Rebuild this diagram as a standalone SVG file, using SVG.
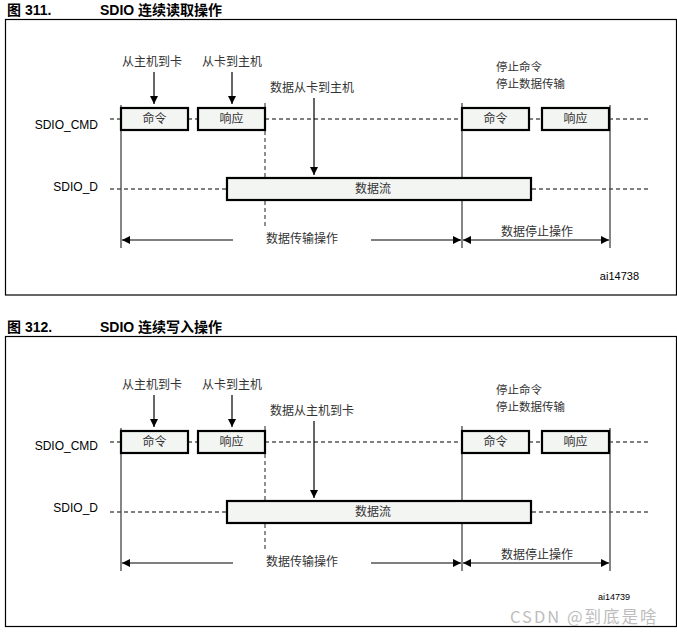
<svg xmlns="http://www.w3.org/2000/svg" width="677" height="633" viewBox="0 0 677 633">
<defs>
<marker id="ah" viewBox="0 0 10 10" refX="10" refY="5" markerWidth="10" markerHeight="8" markerUnits="userSpaceOnUse" orient="auto-start-reverse">
<path d="M0,0 L10,5 L0,10 z" fill="#000"/>
</marker>
<style>
.title{font-family:"Liberation Sans","Noto Sans CJK SC",sans-serif;font-weight:bold;font-size:14px;fill:#000}
.cn{font-family:"Noto Sans CJK SC","Liberation Serif",serif;font-size:12px;fill:#333}
.cn2{font-family:"Noto Sans CJK SC","Liberation Serif",serif;font-size:11.5px;fill:#333}
.sig{font-family:"Liberation Sans",Arial,sans-serif;font-size:12px;fill:#000}
.id{font-family:"Liberation Sans",Arial,sans-serif;font-size:11px;fill:#000}
.frame{fill:none;stroke:#000;stroke-width:1.2}
.box{fill:#f3f5f3;stroke:#000;stroke-width:2.2}
.dash{stroke:#000;stroke-width:1;stroke-dasharray:4 3;fill:none}
.vdash{stroke:#555;stroke-width:1.3;stroke-dasharray:4 3;fill:none}
.vline{stroke:#444;stroke-width:1.3;fill:none}
.arr{stroke:#000;stroke-width:1.2;fill:none}
.wm{font-family:"Noto Sans CJK SC","Liberation Sans",sans-serif;font-size:16.5px;letter-spacing:2px;fill:#bdbdbd}
</style>
</defs>

<!-- Figure 311 -->
<text class="title" x="7" y="15">图 311.</text>
<text class="title" x="100" y="15">SDIO 连续读取操作</text>
<rect class="frame" x="5.5" y="19.5" width="671" height="275.5"/>

<g id="fig311">
  <g id="f1-connectors">
    <line class="dash" x1="110" y1="119" x2="121" y2="119"/>
    <line class="dash" x1="188" y1="119" x2="198" y2="119"/>
    <line class="dash" x1="265" y1="119" x2="462" y2="119"/>
    <line class="dash" x1="529" y1="119" x2="541" y2="119"/>
    <line class="dash" x1="609" y1="119" x2="650" y2="119"/>
    <line class="dash" x1="110" y1="189" x2="227" y2="189"/>
    <line class="dash" x1="532" y1="189" x2="650" y2="189"/>
    <line class="vline" x1="121" y1="105" x2="121" y2="248"/>
    <line class="vdash" x1="265" y1="103" x2="265" y2="228"/>
    <line class="vline" x1="462" y1="103" x2="462" y2="248"/>
    <line class="vline" x1="610" y1="105" x2="610" y2="248"/>
    <line class="arr" x1="154" y1="72" x2="154" y2="104" marker-end="url(#ah)"/>
    <line class="arr" x1="232" y1="72" x2="232" y2="104" marker-end="url(#ah)"/>
    <line class="arr" x1="314" y1="98" x2="314" y2="175" marker-end="url(#ah)"/>
    <line class="arr" x1="233" y1="240" x2="122" y2="240" marker-end="url(#ah)"/>
    <line class="arr" x1="371" y1="240" x2="461" y2="240" marker-end="url(#ah)"/>
    <line class="arr" x1="463" y1="240" x2="609" y2="240" marker-start="url(#ah)" marker-end="url(#ah)"/>
  </g>
  <text class="sig" x="98" y="129" text-anchor="end">SDIO_CMD</text>
  <text class="sig" x="98" y="191" text-anchor="end">SDIO_D</text>
  <text class="cn" x="152" y="66" text-anchor="middle">从主机到卡</text>
  <text class="cn" x="232" y="66" text-anchor="middle">从卡到主机</text>
  <text class="cn" x="270" y="92">数据从卡到主机</text>
  <text class="cn2" x="496" y="71">停止命令</text>
  <text class="cn2" x="496" y="88">停止数据传输</text>
  <g id="f1-cmd1"><rect class="box" x="121" y="108" width="67" height="22"/><text class="cn" x="154.5" y="123" text-anchor="middle">命令</text></g>
  <g id="f1-resp1"><rect class="box" x="198" y="108" width="67" height="22"/><text class="cn" x="231.5" y="123" text-anchor="middle">响应</text></g>
  <g id="f1-cmd2"><rect class="box" x="462" y="108" width="67" height="22"/><text class="cn" x="495.5" y="123" text-anchor="middle">命令</text></g>
  <g id="f1-resp2"><rect class="box" x="542" y="108" width="67" height="22"/><text class="cn" x="575.5" y="123" text-anchor="middle">响应</text></g>
  <g id="f1-data"><rect class="box" x="227" y="178" width="304" height="22"/><text class="cn" x="373" y="193" text-anchor="middle">数据流</text></g>
  <text class="cn" x="302" y="243" text-anchor="middle">数据传输操作</text>
  <text class="cn" x="537" y="236" text-anchor="middle">数据停止操作</text>
  <text class="id" x="639" y="280" text-anchor="end">ai14738</text>
</g>

<!-- Figure 312 -->
<text class="title" x="7" y="332">图 312.</text>
<text class="title" x="100" y="332">SDIO 连续写入操作</text>
<rect class="frame" x="5.5" y="336.5" width="671" height="290"/>

<g id="fig312" transform="translate(0,323)">
  <g id="f2-connectors">
    <line class="dash" x1="110" y1="119" x2="121" y2="119"/>
    <line class="dash" x1="188" y1="119" x2="198" y2="119"/>
    <line class="dash" x1="265" y1="119" x2="462" y2="119"/>
    <line class="dash" x1="529" y1="119" x2="541" y2="119"/>
    <line class="dash" x1="609" y1="119" x2="650" y2="119"/>
    <line class="dash" x1="110" y1="189" x2="227" y2="189"/>
    <line class="dash" x1="532" y1="189" x2="650" y2="189"/>
    <line class="vline" x1="121" y1="105" x2="121" y2="248"/>
    <line class="vdash" x1="265" y1="103" x2="265" y2="228"/>
    <line class="vline" x1="462" y1="103" x2="462" y2="248"/>
    <line class="vline" x1="610" y1="105" x2="610" y2="248"/>
    <line class="arr" x1="154" y1="72" x2="154" y2="104" marker-end="url(#ah)"/>
    <line class="arr" x1="232" y1="72" x2="232" y2="104" marker-end="url(#ah)"/>
    <line class="arr" x1="314" y1="98" x2="314" y2="175" marker-end="url(#ah)"/>
    <line class="arr" x1="233" y1="240" x2="122" y2="240" marker-end="url(#ah)"/>
    <line class="arr" x1="371" y1="240" x2="461" y2="240" marker-end="url(#ah)"/>
    <line class="arr" x1="463" y1="240" x2="609" y2="240" marker-start="url(#ah)" marker-end="url(#ah)"/>
  </g>
  <text class="sig" x="98" y="127" text-anchor="end">SDIO_CMD</text>
  <text class="sig" x="98" y="189" text-anchor="end">SDIO_D</text>
  <text class="cn" x="152" y="66" text-anchor="middle">从主机到卡</text>
  <text class="cn" x="232" y="66" text-anchor="middle">从卡到主机</text>
  <text class="cn" x="270" y="92">数据从主机到卡</text>
  <text class="cn2" x="496" y="71">停止命令</text>
  <text class="cn2" x="496" y="88">停止数据传输</text>
  <g id="f2-cmd1"><rect class="box" x="121" y="108" width="67" height="22"/><text class="cn" x="154.5" y="123" text-anchor="middle">命令</text></g>
  <g id="f2-resp1"><rect class="box" x="198" y="108" width="67" height="22"/><text class="cn" x="231.5" y="123" text-anchor="middle">响应</text></g>
  <g id="f2-cmd2"><rect class="box" x="462" y="108" width="67" height="22"/><text class="cn" x="495.5" y="123" text-anchor="middle">命令</text></g>
  <g id="f2-resp2"><rect class="box" x="542" y="108" width="67" height="22"/><text class="cn" x="575.5" y="123" text-anchor="middle">响应</text></g>
  <g id="f2-data"><rect class="box" x="227" y="178" width="304" height="22"/><text class="cn" x="373" y="193" text-anchor="middle">数据流</text></g>
  <text class="cn" x="302" y="243" text-anchor="middle">数据传输操作</text>
  <text class="cn" x="537" y="236" text-anchor="middle">数据停止操作</text>
  <text class="id" x="630" y="277" text-anchor="end" style="font-size:9px">ai14739</text>
</g>

<text class="wm" x="510" y="623">CSDN @到底是啥</text>
</svg>
